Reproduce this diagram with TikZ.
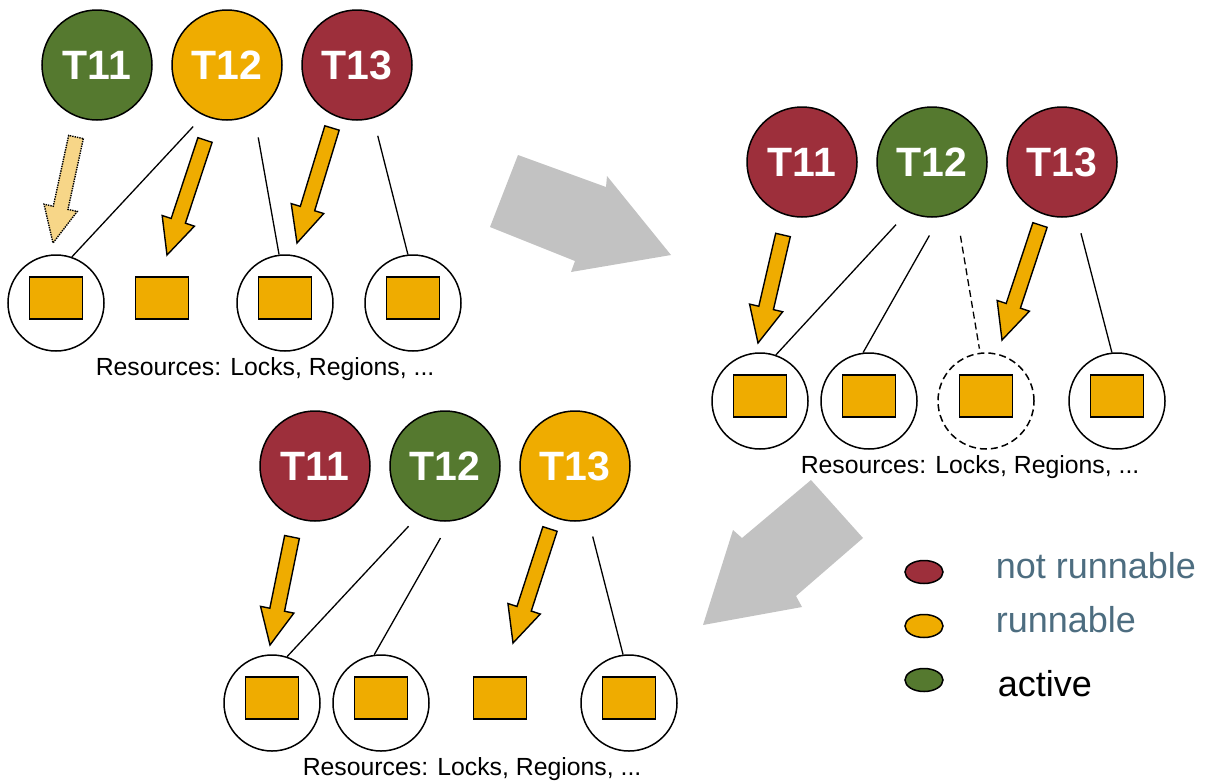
\documentclass[tikz,border=0pt]{standalone}
\usepackage{fontspec}
\setmainfont{Liberation Sans}
\usepackage{tikz}
\usetikzlibrary{calc,positioning,shapes.geometric}
\definecolor{taskred}{HTML}{9D2F3B}
\definecolor{taskgreen}{HTML}{55792F}
\definecolor{taskamber}{HTML}{EFAC00}
\definecolor{paleamber}{HTML}{F7D688}
\definecolor{legendblue}{HTML}{4D6D80}
\definecolor{bigarrow}{HTML}{C2C2C2}
% block arrow from coordinate #2 to tip #3
\newcommand{\blockarrow}[3][]{%
  \coordinate (ba-h) at ($(#3)!36pt!(#2)$);
  \draw[blockarr,#1] ($(#2)!7.5pt!90:(#3)$) -- ($(ba-h)!7.5pt!90:(#3)$) -- ($(ba-h)!17pt!90:(#3)$)
    -- (#3) -- ($(ba-h)!17pt!-90:(#3)$) -- ($(ba-h)!7.5pt!-90:(#3)$) -- ($(#2)!7.5pt!-90:(#3)$) -- cycle;}

\begin{document}
\begin{tikzpicture}[x=1pt, y=-1pt, node distance=18.5pt, line width=1.5pt,
  task/.style={circle, draw, minimum size=110pt, inner sep=0pt, text=white,
    font=\fontsize{41}{48}\selectfont\bfseries},
  res/.style={circle, draw, minimum size=96pt, inner sep=0pt},
  slot/.style={rectangle, draw, fill=taskamber, minimum width=53pt, minimum height=42pt, inner sep=0pt},
  restext/.style={anchor=base west, inner sep=0pt, font=\fontsize{24.8}{28}\selectfont},
  link/.style={line width=1.3pt},
  blockarr/.style={draw, fill=taskamber, line width=1.4pt, line join=miter},
  dot/.style={ellipse, draw, minimum width=38pt, minimum height=23pt, inner sep=0pt},
  legtext/.style={anchor=base west, inner sep=0pt, font=\fontsize{36}{40}\selectfont}]
\useasboundingbox (0,0) rectangle (1206,782);

% big grey arrows between the states
\fill[bigarrow] (518,155) -- (606,187) -- (607,176) -- (671,255) -- (571,272) -- (575,261) -- (490,227) -- cycle;
\fill[bigarrow] (811,480) -- (863,538) -- (796,596) -- (802,607) -- (703,625) -- (733,530) -- (742,538) -- cycle;

% state 1 (top left)
\node[task, fill=taskgreen] (a11) at (97,65) {T11};
\node[task, fill=taskamber, right=of a11] (a12) {T12};
\node[task, fill=taskred, right=of a12] (a13) {T13};
\node[res] (a1) at (56,303) {};
\node[slot] (a1s) at ([yshift=5pt]a1.center) {};
\node[slot] (a2s) at (162,298) {};
\node[res] (a3) at (285,303) {};
\node[slot] (a3s) at ([yshift=5pt]a3.center) {};
\node[res] (a4) at (413,303) {};
\node[slot] (a4s) at ([yshift=5pt]a4.center) {};
\node[restext] (alabel) at (95,375) {Resources: Locks, Regions, ...};
\draw[link, shorten <=15pt] (a12.245) -- (a1.71);
\draw[link, shorten <=24pt] (a12.299) -- (a3.97);
\draw[link, shorten <=18pt] (a13.287) -- (a4.96);
\coordinate (a11-go) at ($(a11)+(-21,72)$);
\coordinate (a1-in) at ($(a1)+(-3,-60)$);
\coordinate (a12-go) at ($(a12)+(-22,75)$);
\coordinate (a2-in) at ($(a2s)+(5,-43)$);
\coordinate (a13-go) at ($(a13)+(-25,63)$);
\coordinate (a3-in) at ($(a3)+(12,-60)$);
\blockarrow[fill=paleamber, densely dotted]{a11-go}{a1-in}
\blockarrow{a12-go}{a2-in}
\blockarrow{a13-go}{a3-in}

% state 2 (top right)
\node[task, fill=taskred] (b11) at (802,162) {T11};
\node[task, fill=taskgreen, right=of b11] (b12) {T12};
\node[task, fill=taskred, right=of b12] (b13) {T13};
\node[res] (b1) at (760,401) {};
\node[slot] (b1s) at ([yshift=5pt]b1.center) {};
\node[res] (b2) at (869,401) {};
\node[slot] (b2s) at ([yshift=5pt]b2.center) {};
\node[res, dash pattern=on 7pt off 4pt] (b3) at (986,401) {};
\node[slot] (b3s) at ([yshift=5pt]b3.center) {};
\node[res] (b4) at (1117,401) {};
\node[slot] (b4s) at ([yshift=5pt]b4.center) {};
\node[restext] (blabel) at (800,473) {Resources: Locks, Regions, ...};
\draw[link, shorten <=17pt] (b12.244) -- (b1.71);
\draw[link, shorten <=21pt] (b12.278) -- (b2.97);
\draw[link, dash pattern=on 7pt off 4pt, shorten <=24pt, shorten >=4pt] (b12.296) -- (b3.97);
\draw[link, shorten <=18pt] (b13.285) -- (b4.96);
\coordinate (b11-go) at ($(b11)+(-19,73)$);
\coordinate (b1-in) at ($(b1)+(-2,-58)$);
\coordinate (b13-go) at ($(b13)+(-22,63)$);
\coordinate (b3-in) at ($(b3)+(16,-61)$);
\blockarrow{b11-go}{b1-in}
\blockarrow{b13-go}{b3-in}

% state 3 (bottom)
\node[task, fill=taskred] (c11) at (315,466) {T11};
\node[task, fill=taskgreen, right=of c11] (c12) {T12};
\node[task, fill=taskamber, right=of c12] (c13) {T13};
\node[res] (c1) at (272,703) {};
\node[slot] (c1s) at ([yshift=5pt]c1.center) {};
\node[res] (c2) at (381,703) {};
\node[slot] (c2s) at ([yshift=5pt]c2.center) {};
\node[slot] (c3s) at (500,698) {};
\node[res] (c4) at (629,703) {};
\node[slot] (c4s) at ([yshift=5pt]c4.center) {};
\node[restext] (clabel) at (302,775) {Resources: Locks, Regions, ...};
\draw[link, shorten <=15pt] (c12.242) -- (c1.72);
\draw[link, shorten <=19pt] (c12.275) -- (c2.98);
\draw[link, shorten <=17pt] (c13.284) -- (c4.97);
\coordinate (c11-go) at ($(c11)+(-23,71)$);
\coordinate (c1-in) at ($(c1)+(-2,-58)$);
\coordinate (c13-go) at ($(c13)+(-25,63)$);
\coordinate (c3-in) at ($(c3s)+(13,-55)$);
\blockarrow{c11-go}{c1-in}
\blockarrow{c13-go}{c3-in}

% legend
\node[dot, fill=taskred] (lred) at (924,572) {};
\node[dot, fill=taskamber] (lamber) at (924,626) {};
\node[dot, fill=taskgreen] (lgreen) at (924,680) {};
\node[legtext, text=legendblue] (lnot) at (995,578) {not runnable};
\node[legtext, text=legendblue] (lrun) at (995,632) {runnable};
\node[legtext] (lact) at (997,696) {active};
\end{tikzpicture}
\end{document}
